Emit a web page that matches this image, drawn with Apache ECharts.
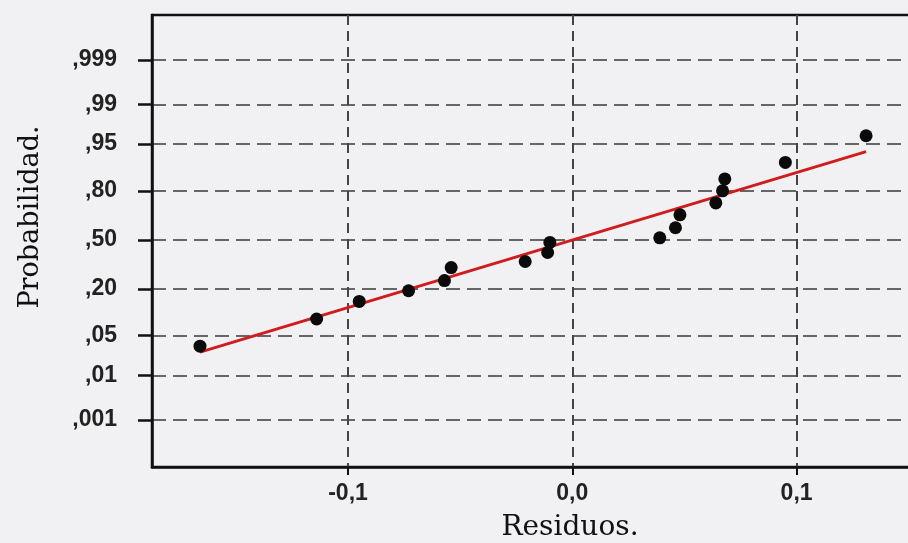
<!DOCTYPE html>
<html>
<head>
<meta charset="utf-8">
<script src="https://cdn.jsdelivr.net/npm/echarts@6/dist/echarts.min.js"></script>
<style>
  html, body { margin: 0; padding: 0; background: #f1f1f3; }
  #main { width: 908px; height: 543px; }
</style>
</head>
<body>
<div id="main"></div>
<script>
// residuos (eje x)
const residuos = [-0.166, -0.114, -0.095, -0.073, -0.057, -0.054, -0.021, -0.011, -0.010,
  0.039, 0.046, 0.048, 0.064, 0.067, 0.068, 0.095, 0.131];
// probabilidad acumulada de cada punto
const probabilidades = [0.034, 0.087, 0.145, 0.191, 0.242, 0.317, 0.355, 0.414, 0.482,
  0.514, 0.582, 0.666, 0.737, 0.800, 0.852, 0.908, 0.963];
// recta de ajuste (extremos)
const rectaX = [-0.166, 0.131];
const rectaP = [0.027, 0.935];
// marcas de los ejes
const probTicks = [0.001, 0.01, 0.05, 0.20, 0.50, 0.80, 0.95, 0.99, 0.999];
const probLabels = [',001', ',01', ',05', ',20', ',50', ',80', ',95', ',99', ',999'];
const xTicks = [-0.1, 0.0, 0.1];
const xLabels = ['-0,1', '0,0', '0,1'];

// inversa de la normal (Acklam) para la escala de probabilidad normal
function probit(p) {
  const a = [-3.969683028665376e+01, 2.209460984245205e+02, -2.759285104469687e+02, 1.383577518672690e+02, -3.066479806614716e+01, 2.506628277459239e+00];
  const b = [-5.447609879822406e+01, 1.615858368580409e+02, -1.556989798598866e+02, 6.680131188771972e+01, -1.328068155288572e+01];
  const c = [-7.784894002430293e-03, -3.223964580411365e-01, -2.400758277161838e+00, -2.549732539343734e+00, 4.374664141464968e+00, 2.938163982698783e+00];
  const d = [7.784695709041462e-03, 3.224671290700398e-01, 2.445134137142996e+00, 3.754408661907416e+00];
  const pl = 0.02425;
  let q, r;
  if (p < pl) {
    q = Math.sqrt(-2 * Math.log(p));
    return (((((c[0]*q+c[1])*q+c[2])*q+c[3])*q+c[4])*q+c[5]) / ((((d[0]*q+d[1])*q+d[2])*q+d[3])*q+1);
  }
  if (p > 1 - pl) {
    q = Math.sqrt(-2 * Math.log(1 - p));
    return -(((((c[0]*q+c[1])*q+c[2])*q+c[3])*q+c[4])*q+c[5]) / ((((d[0]*q+d[1])*q+d[2])*q+d[3])*q+1);
  }
  q = p - 0.5; r = q * q;
  return (((((a[0]*r+a[1])*r+a[2])*r+a[3])*r+a[4])*r+a[5])*q / (((((b[0]*r+b[1])*r+b[2])*r+b[3])*r+b[4])*r+1);
}

const zTicks = probTicks.map(probit);
const nearest = (arr, v) => {
  let k = 0;
  arr.forEach((t, i) => { if (Math.abs(t - v) < Math.abs(arr[k] - v)) k = i; });
  return k;
};

const chart = echarts.init(document.getElementById('main'));

const option = {
  backgroundColor: '#f1f1f3',
  animation: false,
  grid: {
    left: 152, top: 15, bottom: 76, right: -20,
    show: true, borderColor: '#111', borderWidth: 2.5,
    outerBoundsMode: 'none'
  },
  xAxis: {
    type: 'value',
    min: -0.1874, max: 0.1586,
    name: 'Residuos.',
    nameLocation: 'middle',
    nameGap: 47,
    nameTextStyle: { fontFamily: 'DejaVu Serif', fontSize: 28, color: '#111', padding: [0, 0, 0, 60] },
    axisLine: { onZero: false, lineStyle: { color: '#111', width: 2.5 } },
    axisTick: { customValues: xTicks, length: 8, lineStyle: { color: '#111', width: 2 } },
    axisLabel: {
      customValues: xTicks, margin: 15,
      fontFamily: 'Liberation Sans', fontSize: 23, fontWeight: 'bold', color: '#222',
      formatter: v => xLabels[nearest(xTicks, v)]
    },
    splitLine: { show: true, lineStyle: { color: '#444', width: 2, type: [10, 6] } }
  },
  yAxis: {
    type: 'value',
    min: -3.9, max: 3.86,
    name: 'Probabilidad.',
    nameLocation: 'middle',
    nameRotate: 90,
    nameGap: 108,
    nameTextStyle: { fontFamily: 'DejaVu Serif', fontSize: 27, color: '#111', padding: [0, 0, 0, 48] },
    axisLine: { onZero: false, lineStyle: { color: '#111', width: 2.5 } },
    axisTick: { customValues: zTicks, length: 14, lineStyle: { color: '#111', width: 2.5 } },
    axisLabel: {
      customValues: zTicks, margin: 35,
      fontFamily: 'Liberation Sans', fontSize: 23, fontWeight: 'bold', color: '#222',
      formatter: v => probLabels[nearest(zTicks, v)]
    },
    splitLine: { show: true, lineStyle: { color: '#666', width: 2, type: [14, 7] } }
  },
  series: [
    {
      type: 'line',
      data: rectaX.map((x, i) => [x, probit(rectaP[i])]),
      symbol: 'none',
      lineStyle: { color: '#d01c1c', width: 3 },
      z: 3
    },
    {
      type: 'scatter',
      data: residuos.map((x, i) => [x, probit(probabilidades[i])]),
      symbol: 'circle',
      symbolSize: 13,
      itemStyle: { color: '#0a0a0a', opacity: 1 },
      z: 4
    }
  ]
};

option && chart.setOption(option);
</script>
</body>
</html>
